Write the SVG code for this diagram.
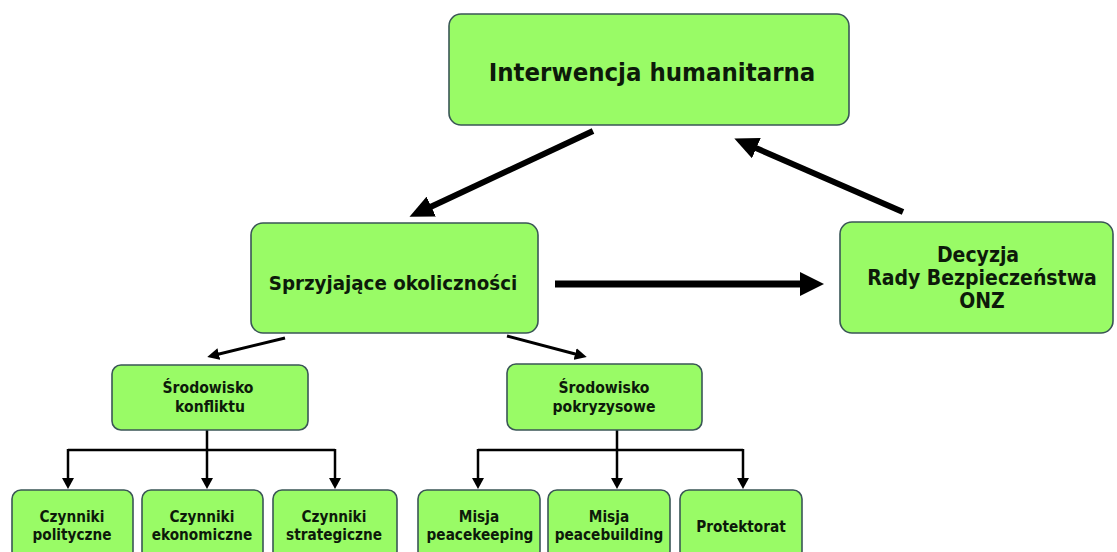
<svg xmlns="http://www.w3.org/2000/svg" width="1117" height="552" viewBox="0 0 1117 552">
<style>
.box{fill:#99fb66;stroke:#3a5656;stroke-width:1.6}
.t{font-family:"DejaVu Sans Condensed","DejaVu Sans",sans-serif;font-weight:bold;fill:#0d1a0a;text-anchor:middle}
.t24{font-size:25.5px}
.t20{font-size:20.3px}
.t21{font-size:21px}
.t15{font-size:15.6px}
.t14{font-size:15.2px}
.big{stroke:#000;stroke-width:7;fill:none}
.diag{stroke:#000;stroke-width:6;fill:none}
.med{stroke:#000;stroke-width:3;fill:none}
.thin{stroke:#000;stroke-width:2.5;fill:none}
</style>
<defs>
<marker id="hBig" markerUnits="userSpaceOnUse" markerWidth="24" markerHeight="24" refX="8" refY="12" orient="auto"><path d="M0,0 L24,12 L0,24 z" fill="#000"/></marker>
<marker id="hDiag" markerUnits="userSpaceOnUse" markerWidth="24" markerHeight="22" refX="8" refY="11" orient="auto"><path d="M0,0 L24,11 L0,22 z" fill="#000"/></marker>
<marker id="hMed" markerUnits="userSpaceOnUse" markerWidth="12" markerHeight="12" refX="4" refY="6" orient="auto"><path d="M0,0 L12,6 L0,12 z" fill="#000"/></marker>
<marker id="hSmall" markerUnits="userSpaceOnUse" markerWidth="11" markerHeight="12" refX="3" refY="6" orient="auto"><path d="M0,0 L11,6 L0,12 z" fill="#000"/></marker>
</defs>
<rect width="1117" height="552" fill="#fff"/>
<g id="connectors">
<line class="diag" x1="593" y1="131" x2="424" y2="210" marker-end="url(#hDiag)"/>
<line class="diag" x1="903" y1="212" x2="749" y2="145" marker-end="url(#hDiag)"/>
<line class="big" x1="555" y1="284" x2="808" y2="284" marker-end="url(#hBig)"/>
<line class="med" x1="285" y1="338" x2="215" y2="355" marker-end="url(#hMed)"/>
<line class="med" x1="507" y1="336" x2="579" y2="355" marker-end="url(#hMed)"/>
<path class="thin" d="M207,430 V450 M68,450 H335"/>
<line class="thin" x1="68" y1="449" x2="68" y2="481" marker-end="url(#hSmall)"/>
<line class="thin" x1="207" y1="449" x2="207" y2="481" marker-end="url(#hSmall)"/>
<line class="thin" x1="335" y1="449" x2="335" y2="481" marker-end="url(#hSmall)"/>
<path class="thin" d="M617,430 V450 M478,450 H743"/>
<line class="thin" x1="478" y1="449" x2="478" y2="481" marker-end="url(#hSmall)"/>
<line class="thin" x1="617" y1="449" x2="617" y2="481" marker-end="url(#hSmall)"/>
<line class="thin" x1="743" y1="449" x2="743" y2="481" marker-end="url(#hSmall)"/>
</g>
<g id="n-interwencja">
<rect class="box" x="449" y="14" width="400" height="111" rx="12"/>
<text class="t t24" x="652" y="81">Interwencja humanitarna</text>
</g>
<g id="n-sprzyjajace">
<rect class="box" x="251" y="223" width="287" height="110" rx="12"/>
<text class="t t20" x="393" y="290">Sprzyjające okoliczności</text>
</g>
<g id="n-decyzja">
<rect class="box" x="840" y="222" width="273" height="111" rx="12"/>
<text class="t t21" x="978" y="262">Decyzja</text>
<text class="t t21" x="982" y="285">Rady Bezpieczeństwa</text>
<text class="t t21" x="982" y="308">ONZ</text>
</g>
<g id="n-konfliktu">
<rect class="box" x="112" y="365" width="196" height="65" rx="9"/>
<text class="t t15" x="208" y="393">Środowisko</text>
<text class="t t15" x="210" y="412">konfliktu</text>
</g>
<g id="n-pokryzysowe">
<rect class="box" x="507" y="364" width="195" height="66" rx="9"/>
<text class="t t15" x="604" y="393">Środowisko</text>
<text class="t t15" x="604" y="412">pokryzysowe</text>
</g>
<g id="n-polityczne">
<rect class="box" x="12" y="490" width="121" height="70" rx="9"/>
<text class="t t14" x="72" y="522">Czynniki</text>
<text class="t t14" x="72" y="540">polityczne</text>
</g>
<g id="n-ekonomiczne">
<rect class="box" x="142" y="490" width="121" height="70" rx="9"/>
<text class="t t14" x="202" y="522">Czynniki</text>
<text class="t t14" x="202" y="540">ekonomiczne</text>
</g>
<g id="n-strategiczne">
<rect class="box" x="273" y="490" width="124" height="70" rx="9"/>
<text class="t t14" x="334" y="522">Czynniki</text>
<text class="t t14" x="334" y="540">strategiczne</text>
</g>
<g id="n-peacekeeping">
<rect class="box" x="418" y="490" width="122" height="70" rx="9"/>
<text class="t t14" x="479" y="522">Misja</text>
<text class="t t14" x="480" y="540">peacekeeping</text>
</g>
<g id="n-peacebuilding">
<rect class="box" x="548" y="490" width="122" height="70" rx="9"/>
<text class="t t14" x="609" y="522">Misja</text>
<text class="t t14" x="609" y="540">peacebuilding</text>
</g>
<g id="n-protektorat">
<rect class="box" x="680" y="490" width="122" height="70" rx="9"/>
<text class="t t14" x="741" y="532">Protektorat</text>
</g>
</svg>
